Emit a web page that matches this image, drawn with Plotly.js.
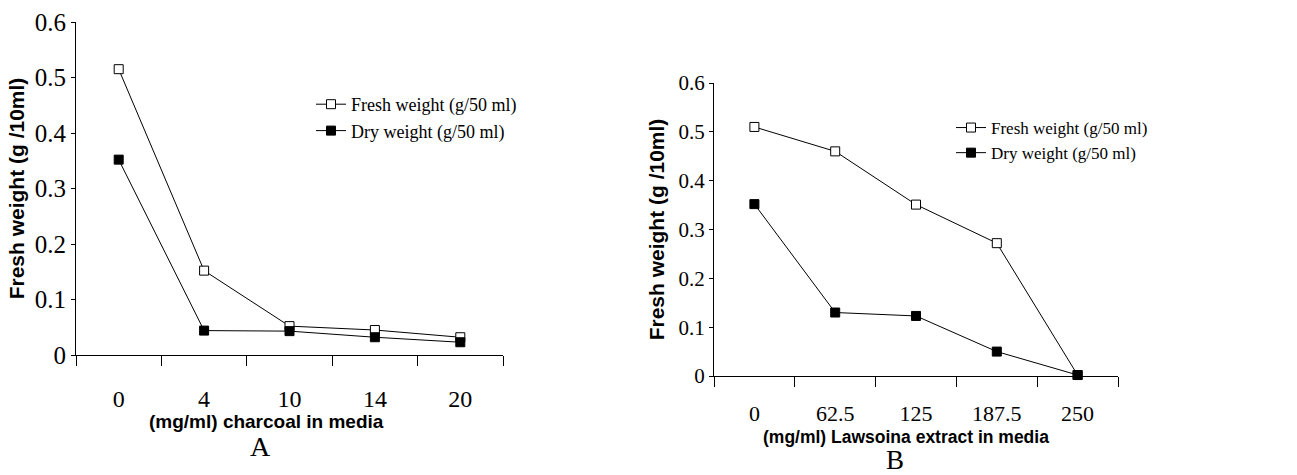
<!DOCTYPE html>
<html>
<head>
<meta charset="utf-8">
<script src="https://cdn.plot.ly/plotly-3.0.1.min.js"></script>
<style>html,body{margin:0;padding:0;background:#fff;}#chart{width:1297px;height:475px;}</style>
</head>
<body>
<div id="chart"></div>
<script>
// Panel A: charcoal
const charcoalCats = ["0", "4", "10", "14", "20"];
const charcoalFresh = [0.515, 0.152, 0.052, 0.045, 0.032];
const charcoalDry = [0.352, 0.044, 0.043, 0.032, 0.023];
// Panel B: Lawsonia extract
const lawCats = ["0", "62.5", "125", "187.5", "250"];
const lawFresh = [0.51, 0.46, 0.351, 0.272, 0.002];
const lawDry = [0.352, 0.13, 0.123, 0.05, 0.002];
const seriesNames = ["Fresh weight (g/50 ml)", "Dry weight (g/50 ml)"];
const yTitle = "Fresh weight (g /10ml)";
const xTitleA = "(mg/ml) charcoal in media";
const xTitleB = "(mg/ml) Lawsoina extract in media";

const W = 1297, H = 475;
const serif = "Liberation Serif, Times New Roman, serif";
const sans = "Liberation Sans, Arial, sans-serif";

function tr(x, y, name, filled, xa, ya, leg, size) {
  return {
    type: "scatter", mode: "lines+markers", x: x, y: y, name: name,
    xaxis: xa, yaxis: ya, legend: leg,
    line: {color: "#000", width: 1},
    marker: {symbol: "square", size: size, color: filled ? "#000" : "#fff",
             line: {color: "#000", width: 1}},
    cliponaxis: false
  };
}

const data = [
  tr(charcoalCats, charcoalFresh, seriesNames[0], false, "x", "y", "legend", 9),
  tr(charcoalCats, charcoalDry, seriesNames[1], true, "x", "y", "legend", 9),
  tr(lawCats, lawFresh, seriesNames[0], false, "x2", "y2", "legend2", 9),
  tr(lawCats, lawDry, seriesNames[1], true, "x2", "y2", "legend2", 9)
];

function px(x) { return x / W; }
function py(y) { return 1 - y / H; }

const xaxisBase = {
  type: "category", range: [-0.5, 4.5], showline: true, linecolor: "#000", linewidth: 1,
  ticks: "outside", tickson: "boundaries", ticklen: 10, tickcolor: "#000",
  showgrid: false, zeroline: false, fixedrange: true
};
const yaxisBase = {
  range: [0, 0.6], dtick: 0.1, tick0: 0, showline: true, linecolor: "#000", linewidth: 1,
  ticks: "outside", ticklen: 4, tickcolor: "#000", showgrid: false, zeroline: false,
  fixedrange: true
};

const layout = {
  width: W, height: H,
  margin: {l: 0, r: 0, t: 0, b: 0},
  paper_bgcolor: "#fff", plot_bgcolor: "#fff",
  showlegend: true,
  xaxis: Object.assign({}, xaxisBase, {domain: [px(76), px(503)], anchor: "y",
    tickfont: {family: serif, size: 24, color: "#000"}, ticklabelstandoff: 22}),
  yaxis: Object.assign({}, yaxisBase, {domain: [py(355), py(22)], anchor: "x",
    tickfont: {family: serif, size: 25, color: "#000"},
    title: {text: yTitle, font: {family: sans, size: 21, color: "#000", weight: "bold"}, standoff: 4}}),
  xaxis2: Object.assign({}, xaxisBase, {domain: [px(714), px(1118)], anchor: "y2",
    tickfont: {family: serif, size: 22, color: "#000"}, ticklabelstandoff: 18}),
  yaxis2: Object.assign({}, yaxisBase, {domain: [py(376), py(83)], anchor: "x2",
    tickfont: {family: serif, size: 21, color: "#000"},
    title: {text: yTitle, font: {family: sans, size: 21, color: "#000", weight: "bold"}, standoff: 8}}),
  legend: {x: px(311), y: py(86), xanchor: "left", yanchor: "top", bgcolor: "rgba(0,0,0,0)",
    font: {family: serif, size: 18, color: "#000"}, tracegroupgap: 0, itemwidth: 30},
  legend2: {x: px(951), y: py(110), xanchor: "left", yanchor: "top", bgcolor: "rgba(0,0,0,0)",
    font: {family: serif, size: 17, color: "#000"}, tracegroupgap: 0, itemwidth: 30},
  annotations: [
    {text: xTitleA, xref: "paper", yref: "paper", x: px(266), y: py(421), showarrow: false,
     xanchor: "center", yanchor: "middle", font: {family: sans, size: 19, color: "#000", weight: "bold"}},
    {text: xTitleB, xref: "paper", yref: "paper", x: px(906), y: py(437), showarrow: false,
     xanchor: "center", yanchor: "middle", font: {family: sans, size: 17.5, color: "#000", weight: "bold"}},
    {text: "A", xref: "paper", yref: "paper", x: px(260), y: py(446), showarrow: false,
     xanchor: "center", yanchor: "middle", font: {family: serif, size: 28, color: "#000"}},
    {text: "B", xref: "paper", yref: "paper", x: px(895), y: py(460), showarrow: false,
     xanchor: "center", yanchor: "middle", font: {family: serif, size: 27, color: "#000"}}
  ]
};

Plotly.newPlot("chart", data, layout, {staticPlot: true, displayModeBar: false});
</script>
</body>
</html>
